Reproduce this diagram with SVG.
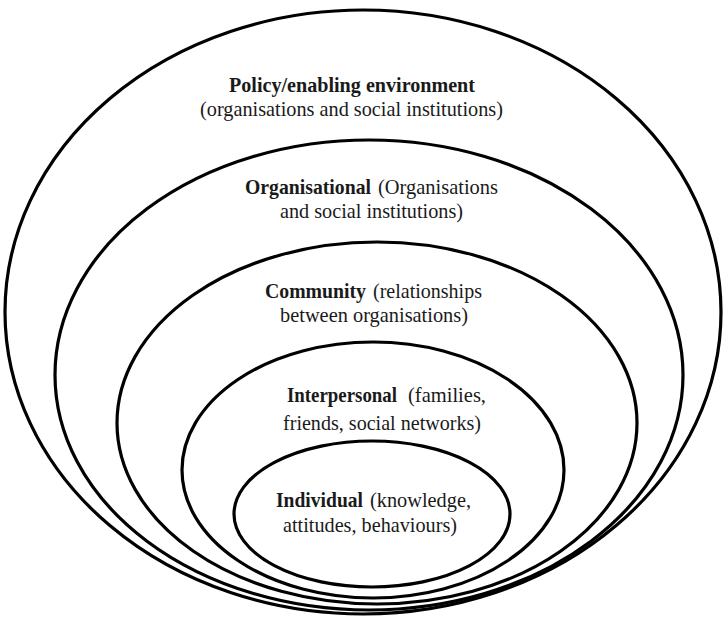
<svg xmlns="http://www.w3.org/2000/svg" width="724" height="620" viewBox="0 0 724 620">
<style>
.ring{fill:none;stroke:#000;stroke-width:3.2}
.lbl{font-family:"Liberation Serif","Times New Roman",serif;font-size:22px;fill:#1a1a1a}
.b{font-weight:bold}
</style>
<rect width="724" height="620" fill="#fff"/>
<g id="policy">
<ellipse class="ring" cx="363" cy="312" rx="358" ry="302" stroke-width="3.6"/>
<text class="lbl b" x="229" y="92" textLength="246" lengthAdjust="spacingAndGlyphs">Policy/enabling environment</text>
<text class="lbl" x="200" y="116" textLength="303" lengthAdjust="spacingAndGlyphs">(organisations and social institutions)</text>
</g>
<g id="organisational">
<ellipse class="ring" cx="369" cy="375" rx="314" ry="235"/>
<text class="lbl b" x="245" y="194" textLength="126" lengthAdjust="spacingAndGlyphs">Organisational</text>
<text class="lbl" x="378" y="194" textLength="120" lengthAdjust="spacingAndGlyphs">(Organisations</text>
<text class="lbl" x="280" y="218" textLength="183" lengthAdjust="spacingAndGlyphs">and social institutions)</text>
</g>
<g id="community">
<ellipse class="ring" cx="377" cy="423" rx="260" ry="181"/>
<text class="lbl b" x="265" y="298" textLength="101" lengthAdjust="spacingAndGlyphs">Community</text>
<text class="lbl" x="373" y="298" textLength="109" lengthAdjust="spacingAndGlyphs">(relationships</text>
<text class="lbl" x="280" y="322" textLength="188" lengthAdjust="spacingAndGlyphs">between organisations)</text>
</g>
<g id="interpersonal">
<ellipse class="ring" cx="373" cy="470" rx="191" ry="128"/>
<text class="lbl b" x="287" y="402" textLength="110" lengthAdjust="spacingAndGlyphs">Interpersonal</text>
<text class="lbl" x="408" y="402" textLength="78" lengthAdjust="spacingAndGlyphs">(families,</text>
<text class="lbl" x="283" y="430" textLength="198" lengthAdjust="spacingAndGlyphs">friends, social networks)</text>
</g>
<g id="individual">
<ellipse class="ring" cx="372" cy="514" rx="138" ry="73"/>
<text class="lbl b" x="276" y="507" textLength="87" lengthAdjust="spacingAndGlyphs">Individual</text>
<text class="lbl" x="370" y="507" textLength="101" lengthAdjust="spacingAndGlyphs">(knowledge,</text>
<text class="lbl" x="283" y="532" textLength="174" lengthAdjust="spacingAndGlyphs">attitudes, behaviours)</text>
</g>
<g id="connectors"></g>
</svg>
